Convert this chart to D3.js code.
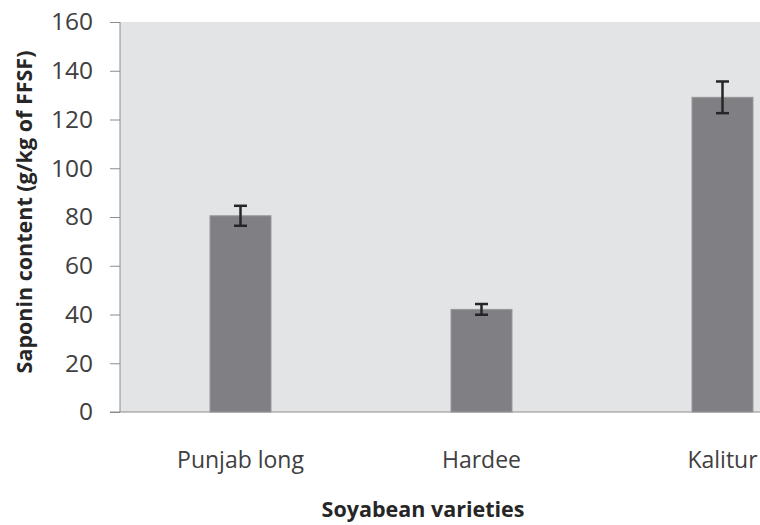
<!DOCTYPE html>
<html>
<head>
<meta charset="utf-8">
<script src="https://cdn.jsdelivr.net/npm/d3@7"></script>
<style>
  html, body { margin: 0; padding: 0; background: #fff; }
  svg { display: block; font-family: "Open Sans", sans-serif; }
</style>
</head>
<body>
<div id="chart"></div>
<script>
const varieties = ["Punjab long", "Hardee", "Kalitur"];
const saponin = [80.5, 42.1, 129.1];
const errors = [4.1, 2.2, 6.5];
const yTicks = [0, 20, 40, 60, 80, 100, 120, 140, 160];

const W = 760, H = 525;
const margin = { top: 22, left: 120, bottom: 113 };
const plotW = 723;            // plot continues past the right edge of the picture
const plotH = H - margin.top - margin.bottom;

const svg = d3.select("#chart").append("svg")
  .attr("width", W)
  .attr("height", H);

const g = svg.append("g")
  .attr("transform", `translate(${margin.left},${margin.top})`);

const x = d3.scaleBand()
  .domain(varieties)
  .range([0, plotW])
  .paddingInner(0)
  .paddingOuter(0);

const y = d3.scaleLinear()
  .domain([0, 160])
  .range([plotH, 0]);

// plot background
g.append("rect")
  .attr("x", 0).attr("y", 0)
  .attr("width", plotW).attr("height", plotH)
  .attr("fill", "#e3e4e6");

// y axis
const yAxis = g.append("g")
  .call(d3.axisLeft(y).tickValues(yTicks).tickSize(10).tickPadding(17));
yAxis.selectAll("line").attr("stroke", "#8c8c8c");
yAxis.select(".domain").attr("stroke", "#8c8c8c").attr("d", `M0,${plotH}V0`);
yAxis.selectAll("text")
  .attr("fill", "#404040")
  .style("font-size", "24.5px")
  .style("font-family", "'Open Sans', sans-serif");

// x axis
const xAxis = g.append("g")
  .attr("transform", `translate(0,${plotH})`)
  .call(d3.axisBottom(x).tickSize(0).tickPadding(40));
xAxis.select(".domain").attr("stroke", "#8c8c8c").attr("d", `M-10,0H${plotW}`);
xAxis.selectAll("text")
  .attr("fill", "#404040")
  .style("font-size", "23px")
  .style("font-family", "'Open Sans', sans-serif");

// bars
const barW = x.bandwidth() * 0.253;
g.selectAll(".bar")
  .data(varieties)
  .enter()
  .append("rect")
  .attr("class", "bar")
  .attr("x", d => x(d) + x.bandwidth() / 2 - barW / 2)
  .attr("y", (d, i) => y(saponin[i]))
  .attr("width", barW)
  .attr("height", (d, i) => plotH - y(saponin[i]))
  .attr("fill", "#808084")
  .attr("stroke", "#98989b")
  .attr("stroke-width", 1);

// error bars
const capW = 13;
varieties.forEach((d, i) => {
  const cx = x(d) + x.bandwidth() / 2;
  const hi = y(saponin[i] + errors[i]);
  const lo = y(saponin[i] - errors[i]);
  g.append("line").attr("x1", cx).attr("x2", cx).attr("y1", hi).attr("y2", lo)
    .attr("stroke", "#262626").attr("stroke-width", 2.5);
  g.append("line").attr("x1", cx - capW / 2).attr("x2", cx + capW / 2).attr("y1", hi).attr("y2", hi)
    .attr("stroke", "#262626").attr("stroke-width", 2.5);
  g.append("line").attr("x1", cx - capW / 2).attr("x2", cx + capW / 2).attr("y1", lo).attr("y2", lo)
    .attr("stroke", "#262626").attr("stroke-width", 2.5);
});

// axis titles
svg.append("text")
  .attr("x", 423)
  .attr("y", 517)
  .attr("text-anchor", "middle")
  .attr("fill", "#262626")
  .style("font-size", "21.5px")
  .style("font-weight", "bold")
  .text("Soyabean varieties");

svg.append("text")
  .attr("transform", "translate(32,212) rotate(-90)")
  .attr("text-anchor", "middle")
  .attr("fill", "#262626")
  .style("font-size", "21.5px")
  .style("font-weight", "bold")
  .text("Saponin content (g/kg of FFSF)");
</script>
</body>
</html>
